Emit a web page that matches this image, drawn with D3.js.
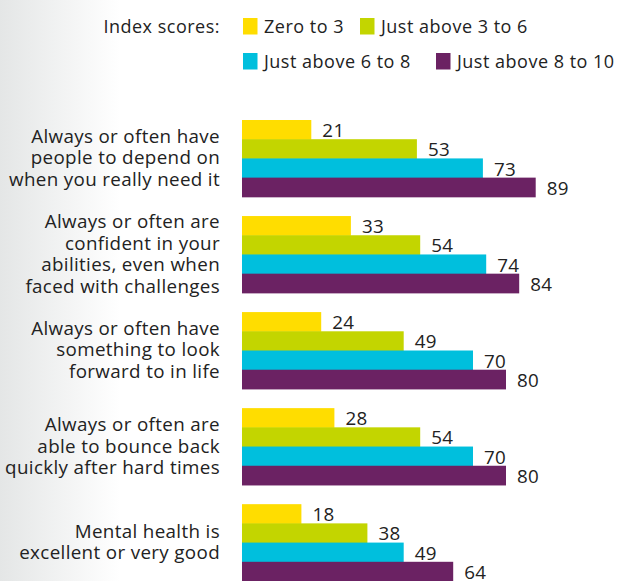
<!DOCTYPE html>
<html><head><meta charset="utf-8">
<script src="https://cdn.jsdelivr.net/npm/d3@7"></script>
<style>
html,body{margin:0;padding:0;background:#fff;}
svg{display:block;}
text{font-family:"Open Sans",sans-serif;fill:#222;}
</style></head>
<body>
<svg id="chart" width="628" height="581"></svg>
<script>
const categories = [
  ["Always or often have","people to depend on","when you really need it"],
  ["Always or often are","confident in your","abilities, even when","faced with challenges"],
  ["Always or often have","something to look","forward to in life"],
  ["Always or often are","able to bounce back","quickly after hard times"],
  ["Mental health is","excellent or very good"]
];
const seriesNames = ["Zero to 3","Just above 3 to 6","Just above 6 to 8","Just above 8 to 10"];
const seriesColors = ["#FFDD00","#C3D500","#00BFDD","#6B2263"];
const zeroTo3      = [21,33,24,28,18];
const above3to6    = [53,54,49,54,38];
const above6to8    = [73,74,70,70,49];
const above8to10   = [89,84,80,80,64];
const series = [zeroTo3, above3to6, above6to8, above8to10];

const svg = d3.select("#chart");
const W = 628, H = 581;
const FS = 18.8, LS = 0.35;

const defs = svg.append("defs");
const grad = defs.append("linearGradient").attr("id","lg").attr("x1","0").attr("x2","1").attr("y1","0").attr("y2","0");
grad.append("stop").attr("offset","0").attr("stop-color","#e4e6e6");
grad.append("stop").attr("offset","1").attr("stop-color","#ffffff");
svg.append("rect").attr("x",0).attr("y",0).attr("width",120).attr("height",H).attr("fill","url(#lg)");

const x = d3.scaleLinear().domain([0,100]).range([242,572]);
const y = d3.scaleBand().domain(d3.range(categories.length)).range([120,581]).paddingInner(0.2).paddingOuter(0).align(0);
const ySub = d3.scaleBand().domain(d3.range(series.length)).range([0, y.bandwidth()]);

const groups = svg.append("g").selectAll("g").data(categories).join("g")
  .attr("transform",(d,i)=>`translate(0,${y(i)})`);

series.forEach((vals, s) => {
  groups.append("rect")
    .attr("x", x(0))
    .attr("y", ySub(s))
    .attr("width", (d,i)=>x(vals[i])-x(0))
    .attr("height", ySub.bandwidth()+0.5)
    .attr("fill", seriesColors[s]);
});
series.forEach((vals, s) => {
  groups.append("text")
    .attr("x", (d,i)=>x(vals[i])+11)
    .attr("y", ySub(s)+ySub.bandwidth()/2+0.5)
    .attr("dominant-baseline","central")
    .attr("font-size",FS)
    .attr("letter-spacing",LS)
    .text((d,i)=>vals[i]);
});

const lh = 21.8;
groups.append("text")
  .attr("text-anchor","end")
  .attr("font-size",FS)
  .attr("letter-spacing",LS)
  .each(function(lines){
    const t = d3.select(this);
    const n = lines.length;
    const mid = y.bandwidth()/2;
    lines.forEach((ln,k)=>{
      t.append("tspan").attr("x",220)
        .attr("y", mid + (k-(n-1)/2)*lh + 6)
        .text(ln);
    });
  });

svg.append("text").attr("x",220).attr("y",33).attr("text-anchor","end").attr("font-size",18).attr("letter-spacing",0.5).text("Index scores:");
const legendPos = [[243,18],[360,18],[243,53],[436,53]];
seriesNames.forEach((n,i)=>{
  const [lx,ly] = legendPos[i];
  svg.append("rect").attr("x",lx).attr("y",ly).attr("width",14.5).attr("height",16.5).attr("fill",seriesColors[i]);
  svg.append("text").attr("x",lx+21).attr("y",ly+15).attr("font-size",18).attr("letter-spacing",0.5).text(n);
});
</script>
</body></html>
